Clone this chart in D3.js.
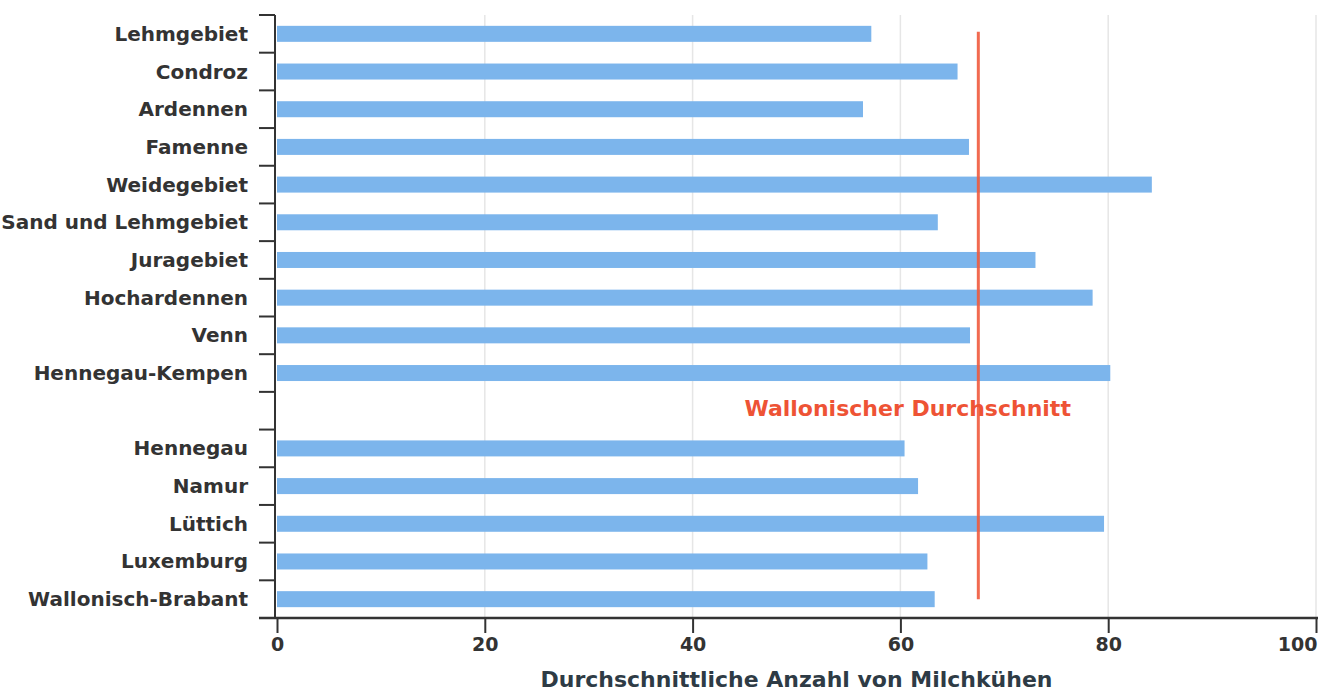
<!DOCTYPE html>
<html>
<head>
<meta charset="utf-8">
<script src="https://cdn.jsdelivr.net/npm/d3@7"></script>
<style>
  body { margin: 0; background: #fff; }
  text { font-family: "DejaVu Sans", sans-serif; font-weight: bold; }
</style>
</head>
<body>
<div id="chart"></div>
<script>
// regions (top to bottom), blank slot separates agricultural regions from provinces
var regions = ["Lehmgebiet", "Condroz", "Ardennen", "Famenne", "Weidegebiet",
    "Sand und Lehmgebiet", "Juragebiet", "Hochardennen", "Venn", "Hennegau-Kempen",
    "", "Hennegau", "Namur", "Lüttich", "Luxemburg", "Wallonisch-Brabant"];
var cows = [57.2, 65.5, 56.4, 66.6, 84.2, 63.6, 73.0, 78.5, 66.7, 80.2,
    null, 60.4, 61.7, 79.6, 62.6, 63.3];
var xTicks = [0, 20, 40, 60, 80, 100];
var average = 67.5;
var averageLabel = "Wallonischer Durchschnitt";
var xTitle = "Durchschnittliche Anzahl von Milchkühen";

var data = regions.map(function (d, i) { return { key: "r" + i, name: d, value: cows[i] }; });

var margin = { top: 15, right: 6, bottom: 75, left: 277 },
    width = 1322 - margin.left - margin.right,
    height = 693 - margin.top - margin.bottom;

var svg = d3.select("#chart")
    .append("svg")
    .attr("width", 1322)
    .attr("height", 693);

var chart = svg.append("g")
    .attr("transform", "translate(" + margin.left + "," + margin.top + ")");

var xScale = d3.scaleLinear().domain([0, 100]).range([0, width]);
var yScale = d3.scaleBand()
    .domain(data.map(function (d) { return d.key; }))
    .range([0, height])
    .padding(0);

var barH = 16;
var ink = "#333";

// gridlines
chart.append("g")
    .selectAll("line")
    .data(xTicks.filter(function (t) { return t > 0; }))
    .enter()
    .append("line")
    .attr("x1", function (d) { return xScale(d); })
    .attr("x2", function (d) { return xScale(d); })
    .attr("y1", 0)
    .attr("y2", height)
    .attr("stroke", "#e6e6e6")
    .attr("stroke-width", 1.5);

// bars
chart.selectAll(".bar")
    .data(data.filter(function (d) { return d.value != null; }))
    .enter()
    .append("rect")
    .attr("class", "bar")
    .attr("x", xScale(0))
    .attr("y", function (d) { return yScale(d.key) + yScale.bandwidth() / 2 - barH / 2; })
    .attr("width", function (d) { return xScale(d.value) - xScale(0); })
    .attr("height", barH)
    .attr("fill", "#7cb5ec");

// average line
var firstKey = data[0].key, lastKey = data[data.length - 1].key;
chart.append("line")
    .attr("x1", xScale(average))
    .attr("x2", xScale(average))
    .attr("y1", yScale(firstKey) + yScale.bandwidth() / 2 - 2)
    .attr("y2", yScale(lastKey) + yScale.bandwidth() / 2)
    .attr("stroke", "#ef5a3d")
    .attr("stroke-width", 3)
    .attr("stroke-opacity", 0.9);

chart.append("text")
    .attr("x", xScale(60.7))
    .attr("y", yScale("r10") + yScale.bandwidth() / 2)
    .attr("dy", "0.25em")
    .attr("text-anchor", "middle")
    .attr("fill", "#ee5335")
    .style("font-size", "22px")
    .text(averageLabel);

// y axis: labels centred, ticks at band boundaries
var yAxis = chart.append("g").attr("class", "y axis");
yAxis.append("line")
    .attr("x1", -2).attr("x2", -2)
    .attr("y1", 0).attr("y2", height)
    .attr("stroke", ink).attr("stroke-width", 2);
yAxis.selectAll(".ytick")
    .data(data.map(function (d) { return yScale(d.key); }).concat([height]))
    .enter()
    .append("line")
    .attr("class", "ytick")
    .attr("x1", -18).attr("x2", -2)
    .attr("y1", function (d) { return d; })
    .attr("y2", function (d) { return d; })
    .attr("stroke", ink).attr("stroke-width", 2);
yAxis.selectAll(".ylabel")
    .data(data)
    .enter()
    .append("text")
    .attr("class", "ylabel")
    .attr("x", -29)
    .attr("y", function (d) { return yScale(d.key) + yScale.bandwidth() / 2; })
    .attr("dy", "0.35em")
    .attr("text-anchor", "end")
    .attr("fill", ink)
    .style("font-size", "20px")
    .text(function (d) { return d.name; });

// x axis
var xAxis = chart.append("g")
    .attr("class", "x axis")
    .attr("transform", "translate(0," + height + ")")
    .call(d3.axisBottom(xScale).tickValues(xTicks).tickSize(15).tickPadding(5));
xAxis.select(".domain")
    .attr("d", "M-18,0H" + (width + 2))
    .attr("stroke", ink).attr("stroke-width", 2.5);
xAxis.selectAll(".tick line").attr("stroke", ink).attr("stroke-width", 2);
xAxis.selectAll(".tick text")
    .attr("fill", ink)
    .style("font-size", "19px")
    .style("font-family", "DejaVu Sans, sans-serif")
    .style("font-weight", "bold")
    .attr("text-anchor", function (d) { return d === 100 ? "end" : "middle"; })
    .attr("x", function (d) { return d === 100 ? 1 : 0; });

chart.append("text")
    .attr("x", xScale(50))
    .attr("y", height + 69)
    .attr("text-anchor", "middle")
    .attr("fill", "#2e3b45")
    .style("font-size", "22px")
    .text(xTitle);
</script>
</body>
</html>
